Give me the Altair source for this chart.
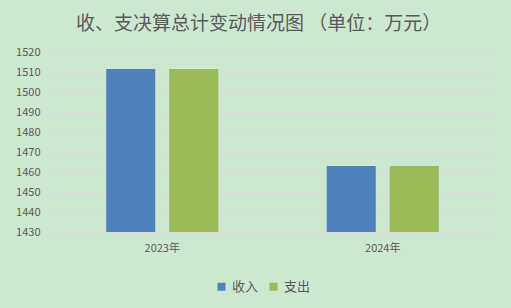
import altair as alt
import pandas as pd

years = ["2023年", "2024年"]
series = ["收入", "支出"]
income = [1511.5, 1463.0]
expense = [1511.5, 1463.0]
y_ticks = [1430, 1440, 1450, 1460, 1470, 1480, 1490, 1500, 1510, 1520]

rows = []
for i, yr in enumerate(years):
    rows.append({"year": yr, "series": "收入", "value": income[i]})
    rows.append({"year": yr, "series": "支出", "value": expense[i]})
df = pd.DataFrame(rows)

font = "Noto Sans CJK SC"
txt = "#595959"

chart = alt.Chart(df).mark_bar(clip=True).encode(
    x=alt.X("year:N", sort=years, title=None,
            scale=alt.Scale(paddingInner=0.492, paddingOuter=0.246),
            axis=alt.Axis(labelAngle=0, ticks=False, domain=False, labelPadding=10,
                          labelFontSize=11, labelColor=txt, labelFont=font)),
    xOffset=alt.XOffset("series:N", sort=series,
                        scale=alt.Scale(paddingInner=0.222, paddingOuter=0)),
    y=alt.Y("value:Q", title=None,
            scale=alt.Scale(domain=[1430, 1520], zero=False, nice=False),
            axis=alt.Axis(values=y_ticks, format="d", ticks=False, domain=False, labelPadding=12,
                          labelFontSize=11, labelColor=txt, labelFont=font,
                          gridColor="#D9D9D9", gridWidth=1)),
    color=alt.Color("series:N", sort=series,
                    scale=alt.Scale(domain=series, range=["#4F81BD", "#9BBB59"]),
                    legend=alt.Legend(title=None, orient="none", direction="horizontal",
                                      legendX=163, legendY=228, symbolType="square",
                                      symbolSize=64, symbolStrokeWidth=0,
                                      labelFontSize=13, labelColor=txt, labelFont=font,
                                      columnPadding=8, labelOffset=4)),
).properties(
    width=441, height=180,
    title=alt.TitleParams("收、支决算总计变动情况图  （单位：万元）", fontSize=19,
                          font=font, fontWeight="normal", color=txt,
                          anchor="middle", offset=12, dx=-14),
    background="#CDE8D0",
    padding={"left": 52, "top": 52, "right": 18, "bottom": 76},
    autosize=alt.AutoSizeParams(type="none"),
).configure_view(stroke=None)

chart.save("out.html", embed_options={"renderer": "svg", "actions": False})
